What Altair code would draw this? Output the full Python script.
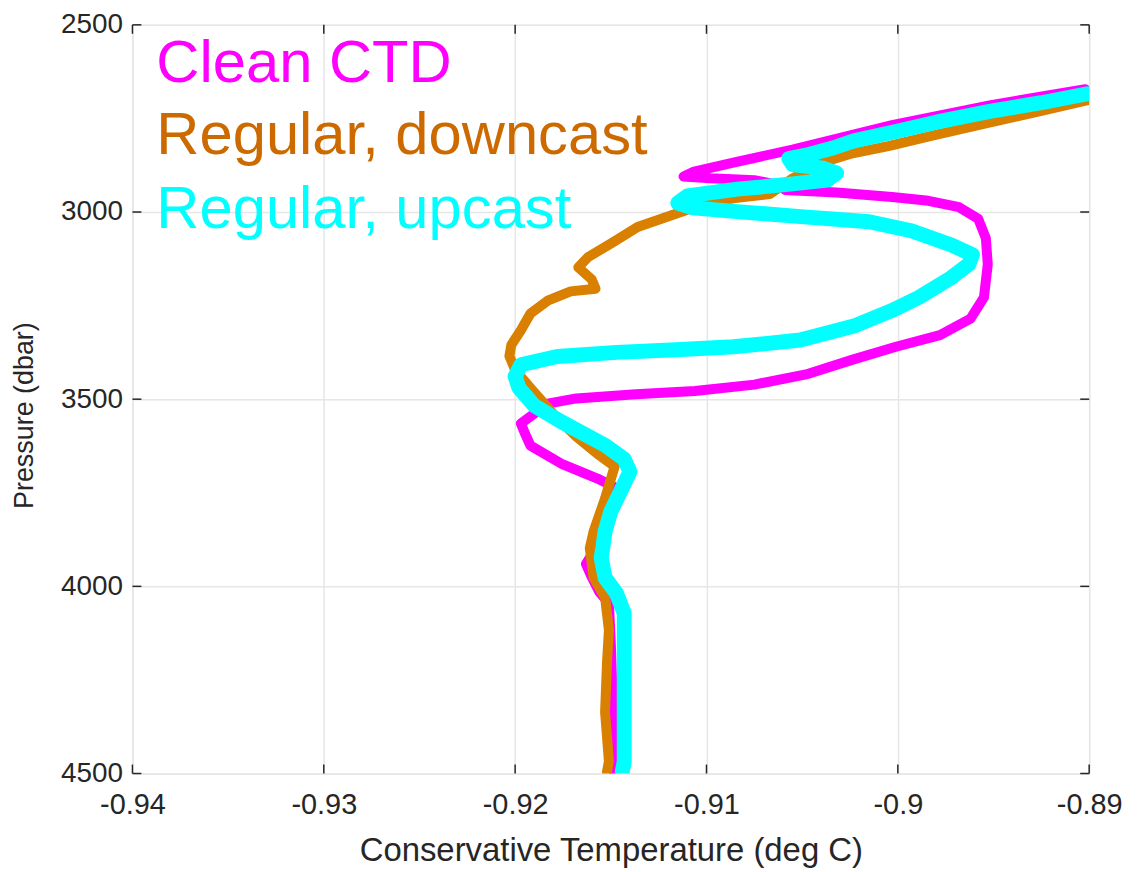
import altair as alt
import pandas as pd

# ---- data ----
series_names = ["Clean CTD", "Regular, downcast", "Regular, upcast"]
series_colors = ["#FF00FF", "#D98000", "#00FFFF"]
legend_text_colors = ["#FF00FF", "#CC6A00", "#00FFFF"]

clean_T = [-0.8902, -0.8952, -0.9003, -0.9055, -0.9086, -0.9107, -0.9112, -0.9098,
           -0.9075, -0.9060, -0.9059, -0.9032, -0.9003, -0.8984, -0.8968, -0.8958,
           -0.8954, -0.8953, -0.8955, -0.8962, -0.8978, -0.9001, -0.9024, -0.9048,
           -0.9075, -0.9106, -0.9137, -0.9168, -0.9183, -0.9197, -0.9195, -0.9192,
           -0.9176, -0.9157, -0.9148, -0.9147, -0.9152, -0.9158, -0.9163, -0.9160,
           -0.9156, -0.9151, -0.9150, -0.9149, -0.9149]
clean_P = [2672, 2715, 2768, 2833, 2868, 2893, 2905, 2910,
           2915, 2930, 2941, 2948, 2960, 2970, 2987, 3018,
           3070, 3140, 3228, 3285, 3329, 3360, 3395, 3434,
           3461, 3478, 3487, 3498, 3512, 3565, 3590, 3624,
           3672, 3712, 3735, 3770, 3850, 3900, 3940, 3975,
           4015, 4045, 4150, 4300, 4490]

down_T = [-0.8900, -0.8925, -0.8954, -0.8982, -0.9005, -0.9025, -0.9039, -0.9055,
          -0.9067, -0.9084, -0.9098, -0.9119, -0.9136, -0.9148, -0.9162, -0.9167,
          -0.9160, -0.9158, -0.9171, -0.9183, -0.9192, -0.9197, -0.9202, -0.9203,
          -0.9200, -0.9192, -0.9180, -0.9168, -0.9156, -0.9148, -0.9153, -0.9159,
          -0.9161, -0.9159, -0.9153, -0.9151, -0.9152, -0.9153, -0.9151, -0.9152]
down_P = [2700, 2730, 2763, 2796, 2824, 2845, 2867, 2910,
          2952, 2962, 2973, 3010, 3040, 3078, 3121, 3148,
          3180, 3205, 3212, 3237, 3271, 3316, 3355, 3385,
          3422, 3470, 3540, 3600, 3650, 3680, 3765, 3853,
          3898, 3977, 4030, 4117, 4204, 4336, 4468, 4495]

up_T = [-0.8901, -0.8925, -0.8952, -0.8980, -0.9001, -0.9023, -0.9034, -0.9048,
        -0.9057, -0.9055, -0.9039, -0.9032, -0.9037, -0.9055, -0.9084, -0.9110,
        -0.9115, -0.9107, -0.9084, -0.9049, -0.9015, -0.8993, -0.8972, -0.8961,
        -0.8963, -0.8972, -0.8989, -0.9003, -0.9022, -0.9051, -0.9086, -0.9116,
        -0.9147, -0.9178, -0.9197, -0.9200, -0.9198, -0.9190, -0.9176, -0.9153,
        -0.9143, -0.9140, -0.9145, -0.9150, -0.9153, -0.9155, -0.9153, -0.9147,
        -0.9143, -0.9143, -0.9143, -0.9143, -0.9144]
up_P = [2684, 2708, 2731, 2760, 2785, 2810, 2829, 2848,
        2857, 2873, 2883, 2896, 2915, 2925, 2939, 2957,
        2976, 2989, 2999, 3013, 3026, 3050, 3088, 3114,
        3140, 3175, 3228, 3263, 3303, 3342, 3360, 3368,
        3375, 3386, 3408, 3439, 3470, 3517, 3560, 3623,
        3660, 3694, 3747, 3800, 3853, 3924, 3977, 4019,
        4072, 4204, 4336, 4468, 4495]

x_ticks = [-0.94, -0.93, -0.92, -0.91, -0.90, -0.89]
y_ticks = [2500, 3000, 3500, 4000, 4500]
x_domain = [-0.94, -0.89]
y_domain = [2500, 4500]

W, H = 961, 752
FONT = "Liberation Sans"
AXIS_COLOR = "#262626"


def frame(T, P):
    return pd.DataFrame({"T": T, "P": P, "i": list(range(len(T)))})


xscale = alt.Scale(domain=x_domain, nice=False, zero=False)
yscale = alt.Scale(domain=y_domain, nice=False, zero=False, reverse=True)

x_axis = alt.Axis(values=x_ticks, grid=True, ticks=False, tickSize=0, domain=False,
                  labelExpr="'' + datum.value", labelFontSize=29, labelFont=FONT,
                  labelColor=AXIS_COLOR, labelPadding=17, labelFlush=False,
                  title="Conservative Temperature (deg C)", titleFont=FONT,
                  titleFontSize=33, titleFontWeight="normal", titleColor=AXIS_COLOR,
                  titlePadding=15, gridColor="#e6e6e6", gridWidth=1.5)
y_axis = alt.Axis(values=y_ticks, grid=True, ticks=False, tickSize=0, domain=False,
                  labelExpr="'' + datum.value", labelFontSize=28, labelFont=FONT,
                  labelColor=AXIS_COLOR, labelPadding=10, labelFlush=False,
                  title="Pressure (dbar)", titleFont=FONT,
                  titleFontSize=27, titleFontWeight="normal", titleColor=AXIS_COLOR,
                  titlePadding=22, titleY=392, gridColor="#e6e6e6", gridWidth=1.5)

base_layers = []
widths = [10, 10, 15]
for (T, P), color, sw in zip([(clean_T, clean_P), (down_T, down_P), (up_T, up_P)],
                             series_colors, widths):
    base_layers.append(
        alt.Chart(frame(T, P)).mark_line(color=color, strokeWidth=sw, strokeCap="round",
                                         strokeJoin="round", clip=True).encode(
            x=alt.X("T:Q", scale=xscale, axis=x_axis),
            y=alt.Y("P:Q", scale=yscale, axis=y_axis),
            order=alt.Order("i:Q"),
        )
    )

# inward tick marks on all four sides (MATLAB box style)
xt = pd.DataFrame({"T": x_ticks})
yt = pd.DataFrame({"P": y_ticks})
TL = 9
tick_layers = [
    alt.Chart(xt).mark_rule(color=AXIS_COLOR, strokeWidth=1.5).encode(
        x=alt.X("T:Q", scale=xscale), y=alt.value(H), y2=alt.value(H - TL)),
    alt.Chart(xt).mark_rule(color=AXIS_COLOR, strokeWidth=1.5).encode(
        x=alt.X("T:Q", scale=xscale), y=alt.value(0), y2=alt.value(TL)),
    alt.Chart(yt).mark_rule(color=AXIS_COLOR, strokeWidth=1.5).encode(
        y=alt.Y("P:Q", scale=yscale), x=alt.value(0), x2=alt.value(TL)),
    alt.Chart(yt).mark_rule(color=AXIS_COLOR, strokeWidth=1.5).encode(
        y=alt.Y("P:Q", scale=yscale), x=alt.value(W), x2=alt.value(W - TL)),
]

# legend text (upper-left, coloured labels)
legend_y = [57, 130, 204]
legend_layers = []
for name, color, ly in zip(series_names, legend_text_colors, legend_y):
    legend_layers.append(
        alt.Chart(pd.DataFrame({"name": [name]})).mark_text(
            align="left", baseline="alphabetic", font=FONT, fontSize=60, color=color
        ).encode(text="name:N", x=alt.value(24), y=alt.value(ly))
    )

chart = alt.layer(*tick_layers, *base_layers, *legend_layers).properties(
    width=W, height=H,
    autosize=alt.AutoSizeParams(type="none"),
    padding={"left": 125, "top": 15, "right": 40, "bottom": 95},
).configure_view(stroke="#5a5a5a", strokeWidth=1.5).configure(background="white")

chart.save("out.html", embed_options={"renderer": "svg", "actions": False})
